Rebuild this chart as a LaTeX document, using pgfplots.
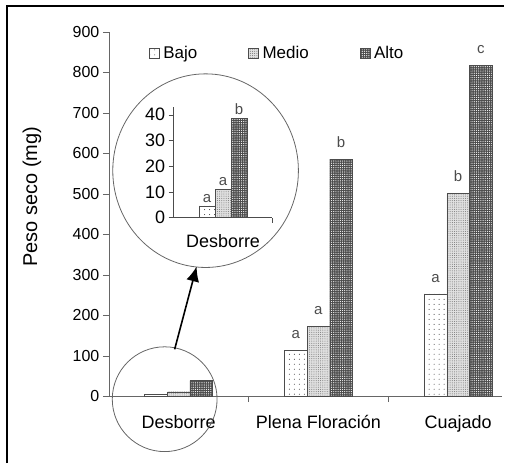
\documentclass[border=0pt]{standalone}
\usepackage{pgfplots}
\pgfplotsset{compat=1.18}
\usepackage{fontspec}
\setmainfont{Liberation Sans}
\usetikzlibrary{patterns.meta,arrows.meta}
\tikzset{
  bajo/.style={fill=white, draw=black!70, postaction={pattern={Dots[distance=5pt,radius=0.55pt]}, pattern color=black!70}},
  medio/.style={fill=black!12, draw=black!70, postaction={pattern={Dots[distance=2.2pt,radius=0.5pt]}, pattern color=black!55}},
  alto/.style={fill=black!70, draw=black!70, postaction={pattern={Dots[distance=2.2pt,radius=0.6pt]}, pattern color=white}},
}
\begin{document}
\begin{tikzpicture}[x=1pt,y=1pt]
\path (0,0) rectangle (505,464);
% frame (top and left edges visible)
\draw[line width=2pt] (7,0) -- (7,458) -- (505,458);
\begin{axis}[
  at={(109pt,67pt)}, anchor=south west,
  scale only axis, width=394pt, height=365pt,
  xmin=-0.5, xmax=2.314, ymin=0, ymax=900,
  axis lines=left, axis line style={-, black!60},
  ytick={0,100,...,900},
  yticklabel style={font=\fontsize{16}{18}\selectfont},
  xtick={0,1,2}, xticklabels={Desborre, Plena Floración, Cuajado},
  xticklabel style={font=\fontsize{18}{20}\selectfont, yshift=-10pt},
  major x tick style={draw=none},
  minor xtick={0.5,1.5},
  tick style={black!60},
  tick align=outside, major tick length=6pt, minor tick length=6pt,
  /pgf/number format/assume math mode=true,
  clip=false,
  ybar, bar width=22.7pt,
  point meta=explicit symbolic,
  nodes near coords,
  nodes near coords style={font=\fontsize{15}{17}\selectfont, text=black!70, anchor=south, yshift=8pt},
  legend style={draw=none, fill=none, at={(0.094,0.942)}, anchor=west, font=\fontsize{17}{19}\selectfont, legend columns=3, /tikz/every even column/.append style={column sep=49pt}, /tikz/every odd column/.append style={column sep=0pt}},
  legend image code/.code={\draw[#1] (0pt,-5pt) rectangle (10pt,5pt);},
  legend cell align=left,
]
\addplot[bajo, bar shift=-22.7pt] coordinates {(0,4.5) [] (1,113.6) [a] (2,252.8) [a]};
\addplot[medio, bar shift=0pt] coordinates {(0,11.1) [] (1,172) [a] (2,500.7) [b]};
\addplot[alto, bar shift=22.7pt] coordinates {(0,38.7) [] (1,585.5) [b] (2,816.8) [c]};
\legend{\hspace{2pt}Bajo, \hspace{2pt}Medio, \hspace{2pt}Alto}
\end{axis}
% inset
\begin{axis}[
  at={(174pt,246pt)}, anchor=south west,
  scale only axis, width=99pt, height=111pt,
  xmin=-0.5, xmax=0.5, ymin=0, ymax=43.1,
  axis lines=left, axis line style={-, black!70},
  ytick={0,10,...,40},
  yticklabel style={font=\fontsize{18}{20}\selectfont},
  xtick={0}, xticklabels={Desborre},
  xticklabel style={font=\fontsize{18}{20}\selectfont, yshift=-8pt},
  major x tick style={draw=none},
  minor xtick={0.5},
  tick style={black!70},
  tick align=outside, major tick length=5pt, minor tick length=5pt,
  /pgf/number format/assume math mode=true,
  clip=false,
  ybar, bar width=16pt,
  point meta=explicit symbolic,
  nodes near coords,
  nodes near coords style={font=\fontsize{15}{17}\selectfont, text=black!70, anchor=south, yshift=0pt},
]
\addplot[bajo, bar shift=-16pt] coordinates {(0,4.5) [a]};
\addplot[medio, bar shift=0pt] coordinates {(0,11.1) [a]};
\addplot[alto, bar shift=16pt] coordinates {(0,38.7) [b]};
\end{axis}
% circles and arrow
\draw[black!60, line width=0.8pt] (206,293) ellipse [x radius=93, y radius=97];
\draw[black!60, line width=0.8pt] (165,64) circle [radius=52.5];
\draw[line width=1.6pt, -{Latex[length=15pt,width=13pt]}] (175,114) -- (197,197);
% y label
\node[rotate=90, font=\fontsize{20}{22}\selectfont] at (32,267) {Peso seco (mg)};
\end{tikzpicture}
\end{document}
